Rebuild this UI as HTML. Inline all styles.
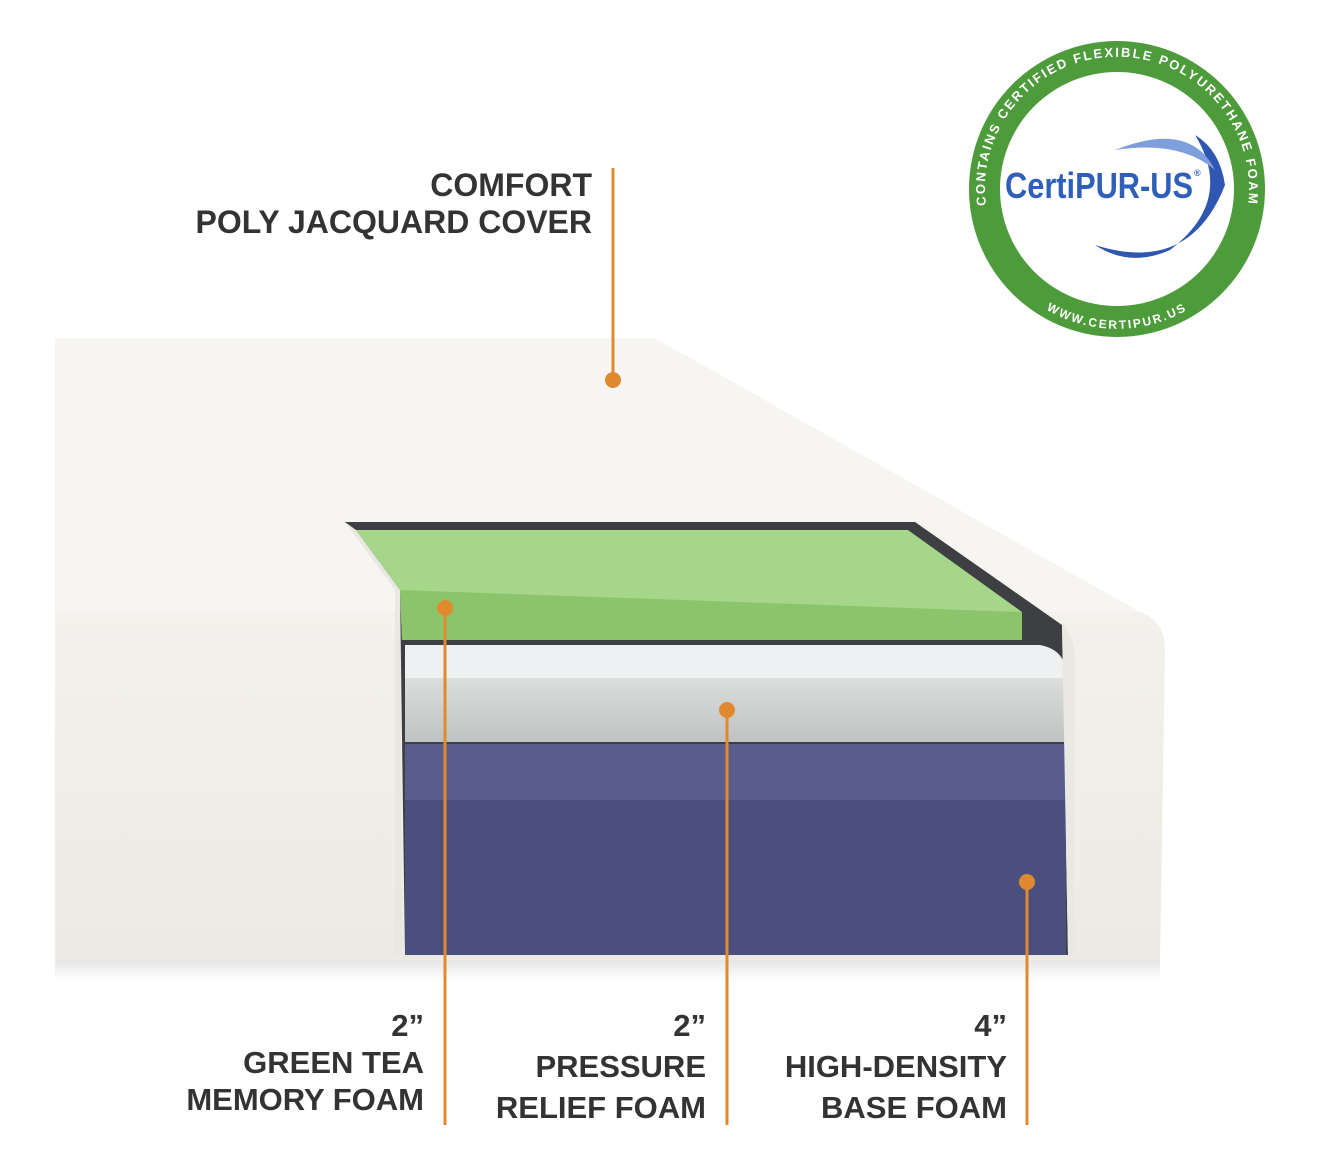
<!DOCTYPE html>
<html><head><meta charset="utf-8"><style>
html,body{margin:0;padding:0;background:#fff;}
svg{display:block;}
text{font-family:"Liberation Sans",Arial,sans-serif;font-weight:bold;fill:#333;}
</style></head><body>
<svg width="1328" height="1158" viewBox="0 0 1328 1158" xmlns="http://www.w3.org/2000/svg">
<defs>
<linearGradient id="front" x1="0" y1="0" x2="0" y2="1"><stop offset="0" stop-color="#f2f1ec"/><stop offset="1" stop-color="#eceae4"/></linearGradient>
<linearGradient id="gray" x1="0" y1="0" x2="0" y2="1"><stop offset="0" stop-color="#dcdedd"/><stop offset="1" stop-color="#bfc2c2"/></linearGradient>
<linearGradient id="shadow" x1="0" y1="0" x2="0" y2="1"><stop offset="0" stop-color="#e2e2e2"/><stop offset="1" stop-color="#fff"/></linearGradient>
<path id="arcTop" d="M 993 234 A 132 132 0 1 1 1241 234"/>
<path id="arcBot" d="M 1027 296 A 140 140 0 0 0 1207 296"/>
</defs>
<rect x="55" y="958" width="1105" height="22" fill="url(#shadow)"/>
<path d="M55 338 L655 338 L1140 612 L55 612 Z" fill="#f6f5f1"/>
<path d="M55 612 L1140 612 Q1165 620 1165 650 L1160 960 L55 960 Z" fill="url(#front)"/>
<path d="M345 522 L915 522 L1062 625 L1068 955 L405 955 L400 590 Z" fill="#3e3f42"/>
<path d="M356 530 L908 530 L1022 612 L1022 640 L402 640 L400 590 Z" fill="#a6d68a"/>
<path d="M400 590 L1022 612 L1022 640 L402 640 Z" fill="#8cc46c"/>
<path d="M345 522 L356 530 L400 590 L402 955 L395 955 L395 590 Z" fill="#e8e7e2"/>
<path d="M405 645 L1040 645 Q1066 650 1066 675 L1066 742 L405 742 Z" fill="#eef0f2"/>
<path d="M405 678 L1066 678 L1066 742 L405 742 Z" fill="url(#gray)"/>
<path d="M405 744 L1066 744 L1066 955 L405 955 Z" fill="#4b4f7e"/>
<path d="M405 744 L1066 744 L1066 800 L405 800 Z" fill="#585d8e"/>
<path d="M1062 625 Q1075 635 1075 660 L1075 955 L1068 955 Z" fill="#e9e8e3"/>
<g stroke="#e0892e" stroke-width="3">
<line x1="613" y1="168" x2="613" y2="380"/>
<line x1="445" y1="608" x2="445" y2="1125"/>
<line x1="727" y1="710" x2="727" y2="1125"/>
<line x1="1027" y1="882" x2="1027" y2="1125"/>
</g>
<g fill="#e0892e">
<circle cx="613" cy="380" r="8"/><circle cx="445" cy="608" r="8"/><circle cx="727" cy="710" r="8"/><circle cx="1027" cy="882" r="8"/>
</g>
<g font-size="32" text-anchor="end">
<text x="592" y="196">COMFORT</text>
<text x="592" y="233">POLY JACQUARD COVER</text>
</g>
<g font-size="31" text-anchor="end">
<text x="424" y="1036">2”</text>
<text x="424" y="1073">GREEN TEA</text>
<text x="424" y="1110">MEMORY FOAM</text>
<text x="706" y="1036">2”</text>
<text x="706" y="1077">PRESSURE</text>
<text x="706" y="1118">RELIEF FOAM</text>
<text x="1007" y="1036">4”</text>
<text x="1007" y="1077">HIGH-DENSITY</text>
<text x="1007" y="1118">BASE FOAM</text>
</g>
<circle cx="1117" cy="189" r="148" fill="#4d9b3a"/>
<circle cx="1117" cy="189" r="117" fill="#fff"/>
<text font-size="13" style="fill:#fff;letter-spacing:2px"><textPath href="#arcTop" startOffset="50%" text-anchor="middle">CONTAINS CERTIFIED FLEXIBLE POLYURETHANE FOAM</textPath></text>
<path d="M1095 245 Q1190 275 1225 185 Q1220 150 1195 135 Q1235 200 1170 250 Q1130 268 1095 245 Z" fill="#2f56b0"/>
<path d="M1115 150 Q1190 120 1215 170 Q1180 140 1115 150 Z" fill="#7f9fdc"/>
<text x="1005" y="198" font-size="36" textLength="188" lengthAdjust="spacingAndGlyphs" style="fill:#2f5fb8;font-weight:bold">CertiPUR-US</text>
<text x="1194" y="176" font-size="9" style="fill:#2f5fb8">®</text>
<text font-size="12" style="fill:#fff;letter-spacing:2px"><textPath href="#arcBot" startOffset="50%" text-anchor="middle">WWW.CERTIPUR.US</textPath></text>
</svg>
</body></html>
